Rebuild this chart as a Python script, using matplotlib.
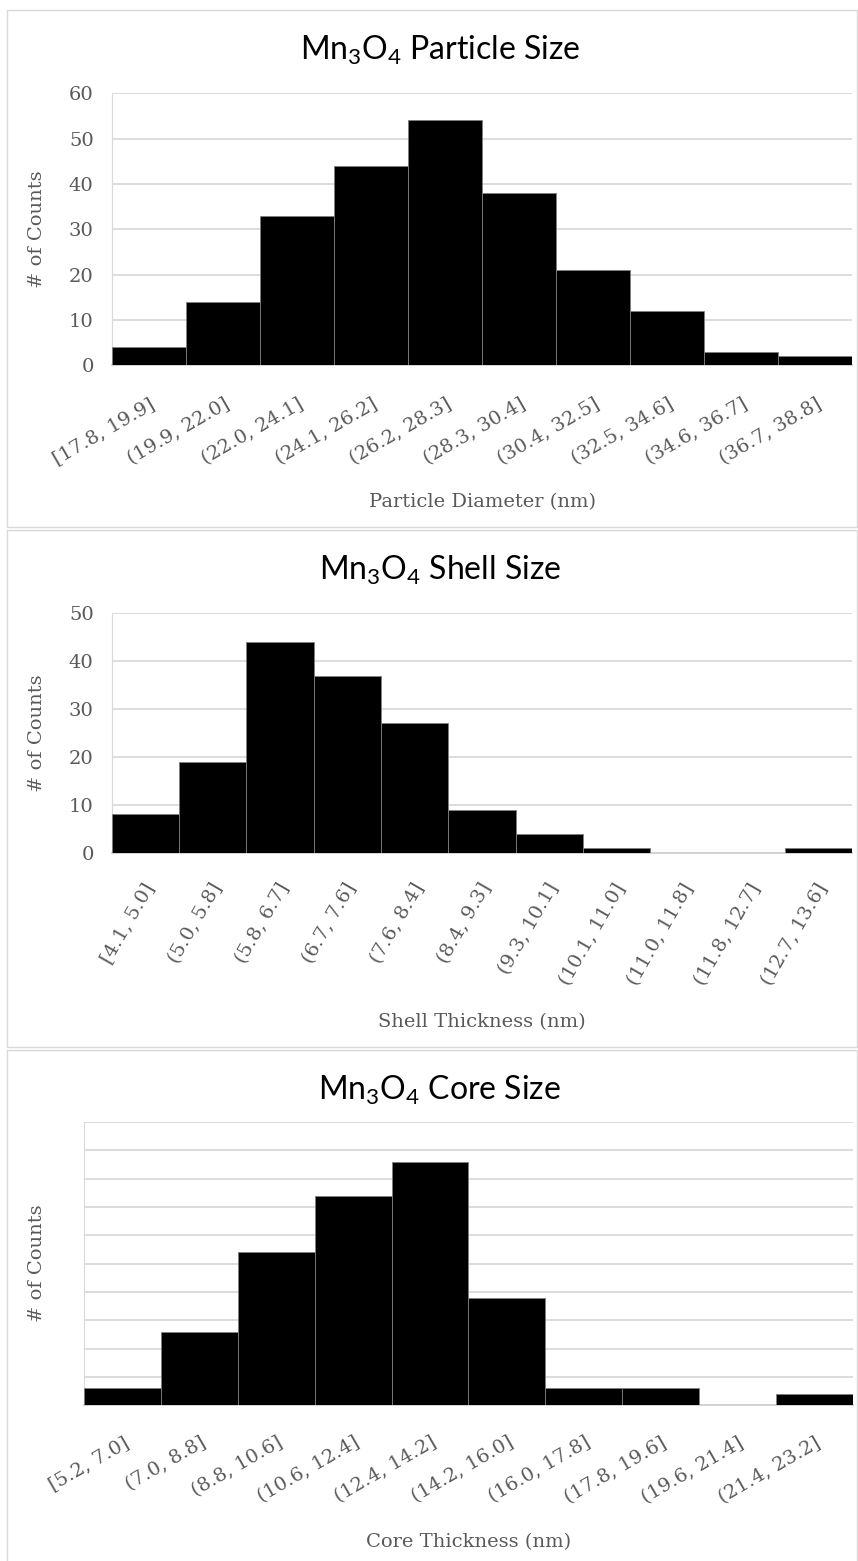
import numpy as np
import matplotlib
matplotlib.use("Agg")
import matplotlib.pyplot as plt
import matplotlib.transforms as mtransforms
from matplotlib.patches import Rectangle

# histogram bins and counts for each measurement
particle_labels = ["[17.8, 19.9]", "(19.9, 22.0]", "(22.0, 24.1]", "(24.1, 26.2]", "(26.2, 28.3]",
                   "(28.3, 30.4]", "(30.4, 32.5]", "(32.5, 34.6]", "(34.6, 36.7]", "(36.7, 38.8]"]
particle_counts = [4, 14, 33, 44, 54, 38, 21, 12, 3, 2]

shell_labels = ["[4.1, 5.0]", "(5.0, 5.8]", "(5.8, 6.7]", "(6.7, 7.6]", "(7.6, 8.4]", "(8.4, 9.3]",
                "(9.3, 10.1]", "(10.1, 11.0]", "(11.0, 11.8]", "(11.8, 12.7]", "(12.7, 13.6]"]
shell_counts = [8, 19, 44, 37, 27, 9, 4, 1, 0, 0, 1]

core_labels = ["[5.2, 7.0]", "(7.0, 8.8]", "(8.8, 10.6]", "(10.6, 12.4]", "(12.4, 14.2]",
               "(14.2, 16.0]", "(16.0, 17.8]", "(17.8, 19.6]", "(19.6, 21.4]", "(21.4, 23.2]"]
core_counts = [3, 13, 27, 37, 43, 19, 3, 3, 0, 2]

W, H = 858, 1561
GRID = "#d9d9d9"
TEXT = "#595959"
SERIF = "DejaVu Serif"

fig = plt.figure(figsize=(W / 100, H / 100), dpi=100)


def px_rect(left, top, right, bottom):
    return [left / W, 1 - bottom / H, (right - left) / W, (bottom - top) / H]


def draw_panel(panel_top, panel_bottom, plot_box, name, labels, counts, xlabel,
               ymax, ystep, show_yticks, rot, pad):
    # chart area frame
    fig.add_artist(Rectangle((7 / W, 1 - panel_bottom / H), 850 / W, (panel_bottom - panel_top) / H,
                             transform=fig.transFigure, fill=False, edgecolor=GRID, linewidth=1.0))

    fig.text(440 / W, 1 - (panel_top + 50) / H, r"$\mathregular{Mn_3O_4}$ " + name,
             family="Lato", fontsize=23, color="black", ha="center", va="baseline")

    ax = fig.add_axes(px_rect(*plot_box))
    x = np.arange(len(counts))
    ax.bar(x, counts, width=1.0, color="black", edgecolor="#7f7f7f", linewidth=0.6, zorder=3)
    ax.set_xlim(-0.5, len(counts) - 0.5)
    ax.set_ylim(0, ymax)
    ax.set_yticks(np.arange(0, ymax + 1, ystep))
    ax.yaxis.grid(True, color=GRID, linewidth=1.3, zorder=0)
    ax.set_axisbelow(True)

    for side in ["top", "right"]:
        ax.spines[side].set_visible(False)
    ax.spines["left"].set_color(GRID)
    ax.spines["left"].set_linewidth(0.8)
    ax.spines["bottom"].set_color("#d0d0d0")
    ax.spines["bottom"].set_linewidth(1.3)

    ax.tick_params(axis="both", length=0)
    ax.tick_params(axis="y", pad=13, labelsize=14, labelcolor=TEXT)
    if not show_yticks:
        ax.set_yticklabels([])
    for lab in ax.get_yticklabels():
        lab.set_family(SERIF)

    ax.set_xticks(x)
    ax.set_xticklabels(labels, rotation=rot, ha="right", va="center", rotation_mode="anchor",
                       family=SERIF, fontsize=14, color=TEXT)
    ax.tick_params(axis="x", pad=pad)
    shift = mtransforms.ScaledTranslation(5 / 100, 0, fig.dpi_scale_trans)
    for lab in ax.get_xticklabels():
        lab.set_transform(lab.get_transform() + shift)

    left, top, right, bottom = plot_box
    fig.text((left + right) / 2 / W, 1 - (panel_top + 497) / H, xlabel,
             family=SERIF, fontsize=14, color=TEXT, ha="center", va="baseline")
    fig.text(37 / W, 1 - (top + bottom) / 2 / H, "# of Counts", rotation=90,
             family=SERIF, fontsize=14, color=TEXT, ha="center", va="center")
    return ax


draw_panel(10, 527, (111.7, 93.3, 852.5, 365.3), "Particle Size", particle_labels, particle_counts,
           "Particle Diameter (nm)", 60, 10, True, 30, 27)
draw_panel(530, 1047, (111.7, 613.3, 852.5, 852.7), "Shell Size", shell_labels, shell_counts,
           "Shell Thickness (nm)", 50, 10, True, 60, 23)
draw_panel(1050, 1565, (84.3, 1122, 852.5, 1405.3), "Core Size", core_labels, core_counts,
           "Core Thickness (nm)", 50, 5, False, 30, 26)

fig.savefig("out.png", dpi=100)
